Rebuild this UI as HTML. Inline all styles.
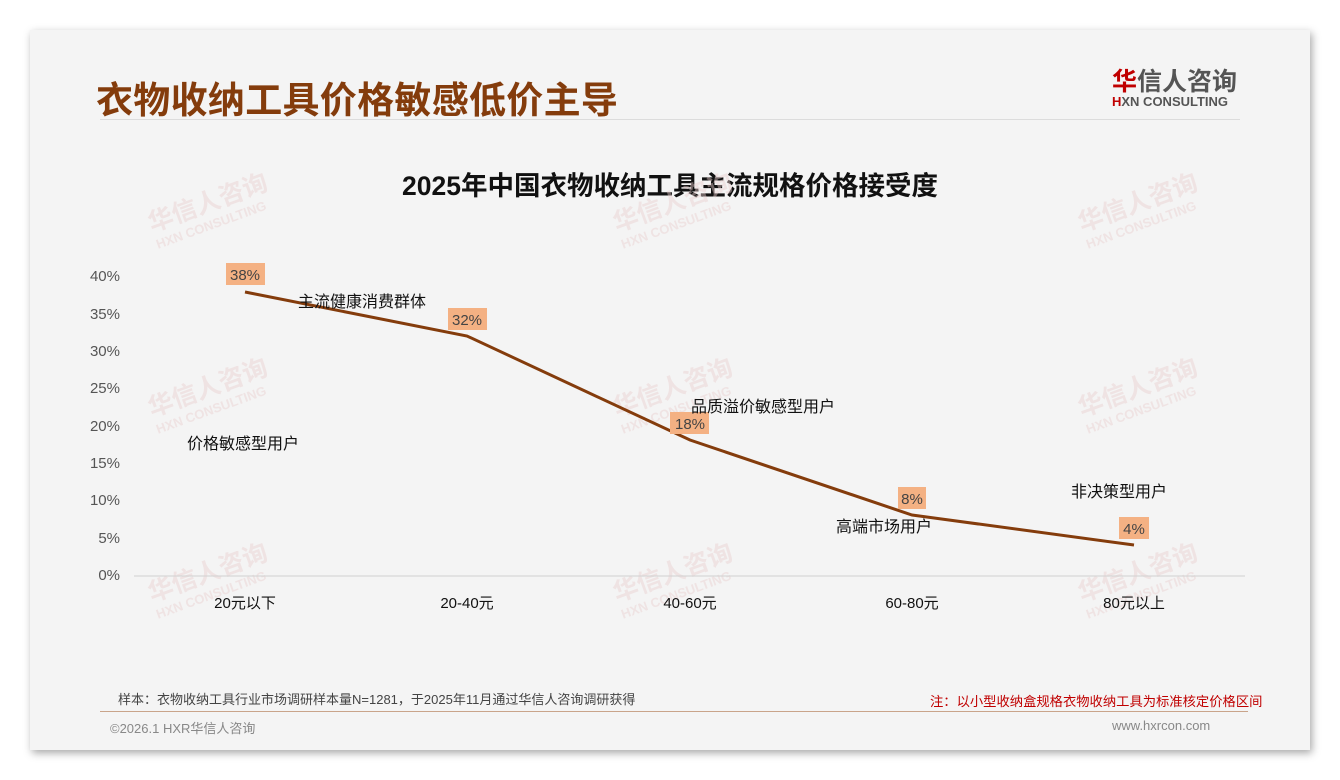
<!DOCTYPE html>
<html><head><meta charset="utf-8"><style>
body{margin:0;width:1340px;height:780px;background:#fff;position:relative;overflow:hidden;font-family:"Liberation Sans","Noto Sans CJK SC",sans-serif}
.slide{position:absolute;left:30px;top:30px;width:1280px;height:720px;background:#f4f4f4;box-shadow:2px 3px 8px rgba(0,0,0,.35)}
.a{position:absolute;white-space:nowrap}
</style></head><body>
<div class="slide"></div>
<div class="a" style="left:96px;top:70px;font-size:37px;font-weight:bold;color:#843c0c;letter-spacing:0.3px">衣物收纳工具价格敏感低价主导</div>
<div class="a" style="left:100px;top:119px;width:1140px;height:1px;background:#dcdcdc"></div>
<div class="a" style="left:1112px;top:62px;font-size:25px;font-weight:bold;color:#555"><span style="color:#c00000">华</span>信人咨询</div>
<div class="a" style="left:1112px;top:94px;font-size:13px;font-weight:bold;color:#555"><span style="color:#c00000">H</span>XN CONSULTING</div>
<div class="a" style="left:0;width:1340px;top:164px;text-align:center;font-size:26.5px;font-weight:bold;color:#111">2025年中国衣物收纳工具主流规格价格接受度</div>
<svg class="a" style="left:0;top:0" width="1340" height="780">
<g font-family="Liberation Sans,Noto Sans CJK SC,sans-serif" fill="#e9cfcf" opacity="0.45" font-weight="bold">
<g transform="translate(152,232) rotate(-20)"><text font-size="25">华信人咨询</text><text y="18" font-size="13">HXN CONSULTING</text></g>
<g transform="translate(617,232) rotate(-20)"><text font-size="25">华信人咨询</text><text y="18" font-size="13">HXN CONSULTING</text></g>
<g transform="translate(1082,232) rotate(-20)"><text font-size="25">华信人咨询</text><text y="18" font-size="13">HXN CONSULTING</text></g>
<g transform="translate(152,417) rotate(-20)"><text font-size="25">华信人咨询</text><text y="18" font-size="13">HXN CONSULTING</text></g>
<g transform="translate(617,417) rotate(-20)"><text font-size="25">华信人咨询</text><text y="18" font-size="13">HXN CONSULTING</text></g>
<g transform="translate(1082,417) rotate(-20)"><text font-size="25">华信人咨询</text><text y="18" font-size="13">HXN CONSULTING</text></g>
<g transform="translate(152,602) rotate(-20)"><text font-size="25">华信人咨询</text><text y="18" font-size="13">HXN CONSULTING</text></g>
<g transform="translate(617,602) rotate(-20)"><text font-size="25">华信人咨询</text><text y="18" font-size="13">HXN CONSULTING</text></g>
<g transform="translate(1082,602) rotate(-20)"><text font-size="25">华信人咨询</text><text y="18" font-size="13">HXN CONSULTING</text></g>
</g>
<line x1="134" y1="576" x2="1245" y2="576" stroke="#d0d0d0"/>
<g font-family="Liberation Sans,sans-serif" font-size="15" fill="#555" text-anchor="end">
<text x="120" y="281">40%</text><text x="120" y="319">35%</text><text x="120" y="356">30%</text><text x="120" y="393">25%</text><text x="120" y="431">20%</text><text x="120" y="468">15%</text><text x="120" y="505">10%</text><text x="120" y="543">5%</text><text x="120" y="580">0%</text>
</g>
<g font-family="Liberation Sans,Noto Sans CJK SC,sans-serif" font-size="15" fill="#111" text-anchor="middle">
<text x="245" y="608">20元以下</text><text x="467" y="608">20-40元</text><text x="690" y="608">40-60元</text><text x="912" y="608">60-80元</text><text x="1134" y="608">80元以上</text>
</g>
<polyline points="245,292 467,336 690,440 912,515 1134,545" fill="none" stroke="#843c0c" stroke-width="3"/>
<g fill="#f4b183"><rect x="226" y="263" width="39" height="22"/><rect x="448" y="308" width="39" height="22"/><rect x="670" y="412" width="39" height="22"/><rect x="898" y="487" width="28" height="22"/><rect x="1119" y="517" width="30" height="22"/></g>
<g font-family="Liberation Sans,sans-serif" font-size="15" fill="#444" text-anchor="middle">
<text x="245" y="280">38%</text><text x="467" y="325">32%</text><text x="690" y="429">18%</text><text x="912" y="504">8%</text><text x="1134" y="534">4%</text>
</g>
<g font-family="Liberation Sans,Noto Sans CJK SC,sans-serif" font-size="16" fill="#111">
<text x="298" y="307">主流健康消费群体</text><text x="187" y="449">价格敏感型用户</text><text x="691" y="412">品质溢价敏感型用户</text><text x="836" y="532">高端市场用户</text><text x="1071" y="497">非决策型用户</text>
</g>
</svg>
<div class="a" style="left:118px;top:689px;font-size:13px;color:#444">样本：衣物收纳工具行业市场调研样本量N=1281，于2025年11月通过华信人咨询调研获得</div>
<div class="a" style="left:930px;top:691px;font-size:13.3px;color:#c00000">注：以小型收纳盒规格衣物收纳工具为标准核定价格区间</div>
<div class="a" style="left:100px;top:711px;width:1148px;height:1px;background:#c9a48a"></div>
<div class="a" style="left:110px;top:718px;font-size:13px;color:#888">©2026.1 HXR华信人咨询</div>
<div class="a" style="left:1112px;top:718px;font-size:13px;color:#888">www.hxrcon.com</div>
</body></html>
